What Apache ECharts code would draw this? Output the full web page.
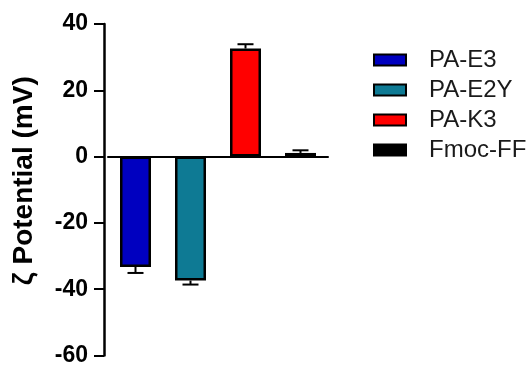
<!DOCTYPE html>
<html>
<head>
<meta charset="utf-8">
<script src="https://cdn.jsdelivr.net/npm/echarts@6/dist/echarts.min.js"></script>
<style>html,body{margin:0;padding:0;background:#fff;}#c{width:531px;height:367px;}</style>
</head>
<body>
<div id="c"></div>
<script>
var categories = ['PA-E3', 'PA-E2Y', 'PA-K3', 'Fmoc-FF'];
var values = [-33.3, -37.4, 32.6, 1.1];
var errors = [1.8, 1.2, 1.3, 0.8];
var colors = ['#0000C0', '#0E7A94', '#FF0000', '#000000'];
var yTicks = [-60, -40, -20, 0, 20, 40];

var chart = echarts.init(document.getElementById('c'));
var font = '"Liberation Sans", Arial, sans-serif';

var series = categories.map(function (name, i) {
  var d = categories.map(function (c, j) { return j === i ? values[i] : '-'; });
  return {
    name: name,
    type: 'bar',
    stack: 'all',
    barWidth: 31,
    data: d,
    itemStyle: { color: colors[i], borderColor: '#000', borderWidth: 2.5 },
    z: 2
  };
});

series.push({
  type: 'custom',
  name: 'err',
  z: 5,
  data: categories.map(function (c, i) { return [i, values[i], errors[i]]; }),
  renderItem: function (params, api) {
    var idx = api.value(0), v = api.value(1), e = api.value(2);
    var s = v >= 0 ? 1 : -1;
    var p0 = api.coord([idx, v]);
    var p1 = api.coord([idx, v + s * e]);
    var hw = 8;
    return {
      type: 'group',
      children: [
        { type: 'line', shape: { x1: p0[0], y1: p0[1], x2: p1[0], y2: p1[1] }, style: { stroke: '#000', lineWidth: 2 } },
        { type: 'line', shape: { x1: p1[0] - hw, y1: p1[1], x2: p1[0] + hw, y2: p1[1] }, style: { stroke: '#000', lineWidth: 2 } }
      ]
    };
  },
  silent: true
});

chart.setOption({
  animation: false,
  backgroundColor: '#fff',
  grid: { left: 108, right: 203, top: 24, bottom: 10, containLabel: false },
  legend: {
    data: categories,
    orient: 'vertical',
    left: 373,
    top: 48,
    itemWidth: 32,
    itemHeight: 11,
    itemGap: 6,
    icon: 'rect',
    textStyle: { fontFamily: font, fontSize: 24, lineHeight: 24, color: '#1a1a1a', padding: [0, 0, 0, 18] },
    padding: 0
  },
  xAxis: {
    type: 'category',
    data: categories,
    axisLine: { onZero: true, lineStyle: { color: '#000', width: 2 } },
    axisTick: { show: false },
    axisLabel: { show: false },
    splitLine: { show: false }
  },
  yAxis: {
    type: 'value',
    min: -60,
    max: 40,
    interval: 20,
    offset: 4,
    name: 'ζ Potential (mV)',
    nameLocation: 'middle',
    nameGap: 66,
    nameTextStyle: { fontFamily: font, fontSize: 28, fontWeight: 'bold', color: '#000', padding: [0, 0, 0, 18] },
    axisLine: { show: true, lineStyle: { color: '#000', width: 2.5 } },
    axisTick: { show: true, length: 10, lineStyle: { color: '#000', width: 2 } },
    axisLabel: {
      fontFamily: font, fontSize: 23, fontWeight: 'bold', color: '#000', margin: 16,
      formatter: function (v) { return yTicks.indexOf(v) >= 0 ? String(v) : ''; }
    },
    splitLine: { show: false }
  },
  series: series
});
</script>
</body>
</html>
